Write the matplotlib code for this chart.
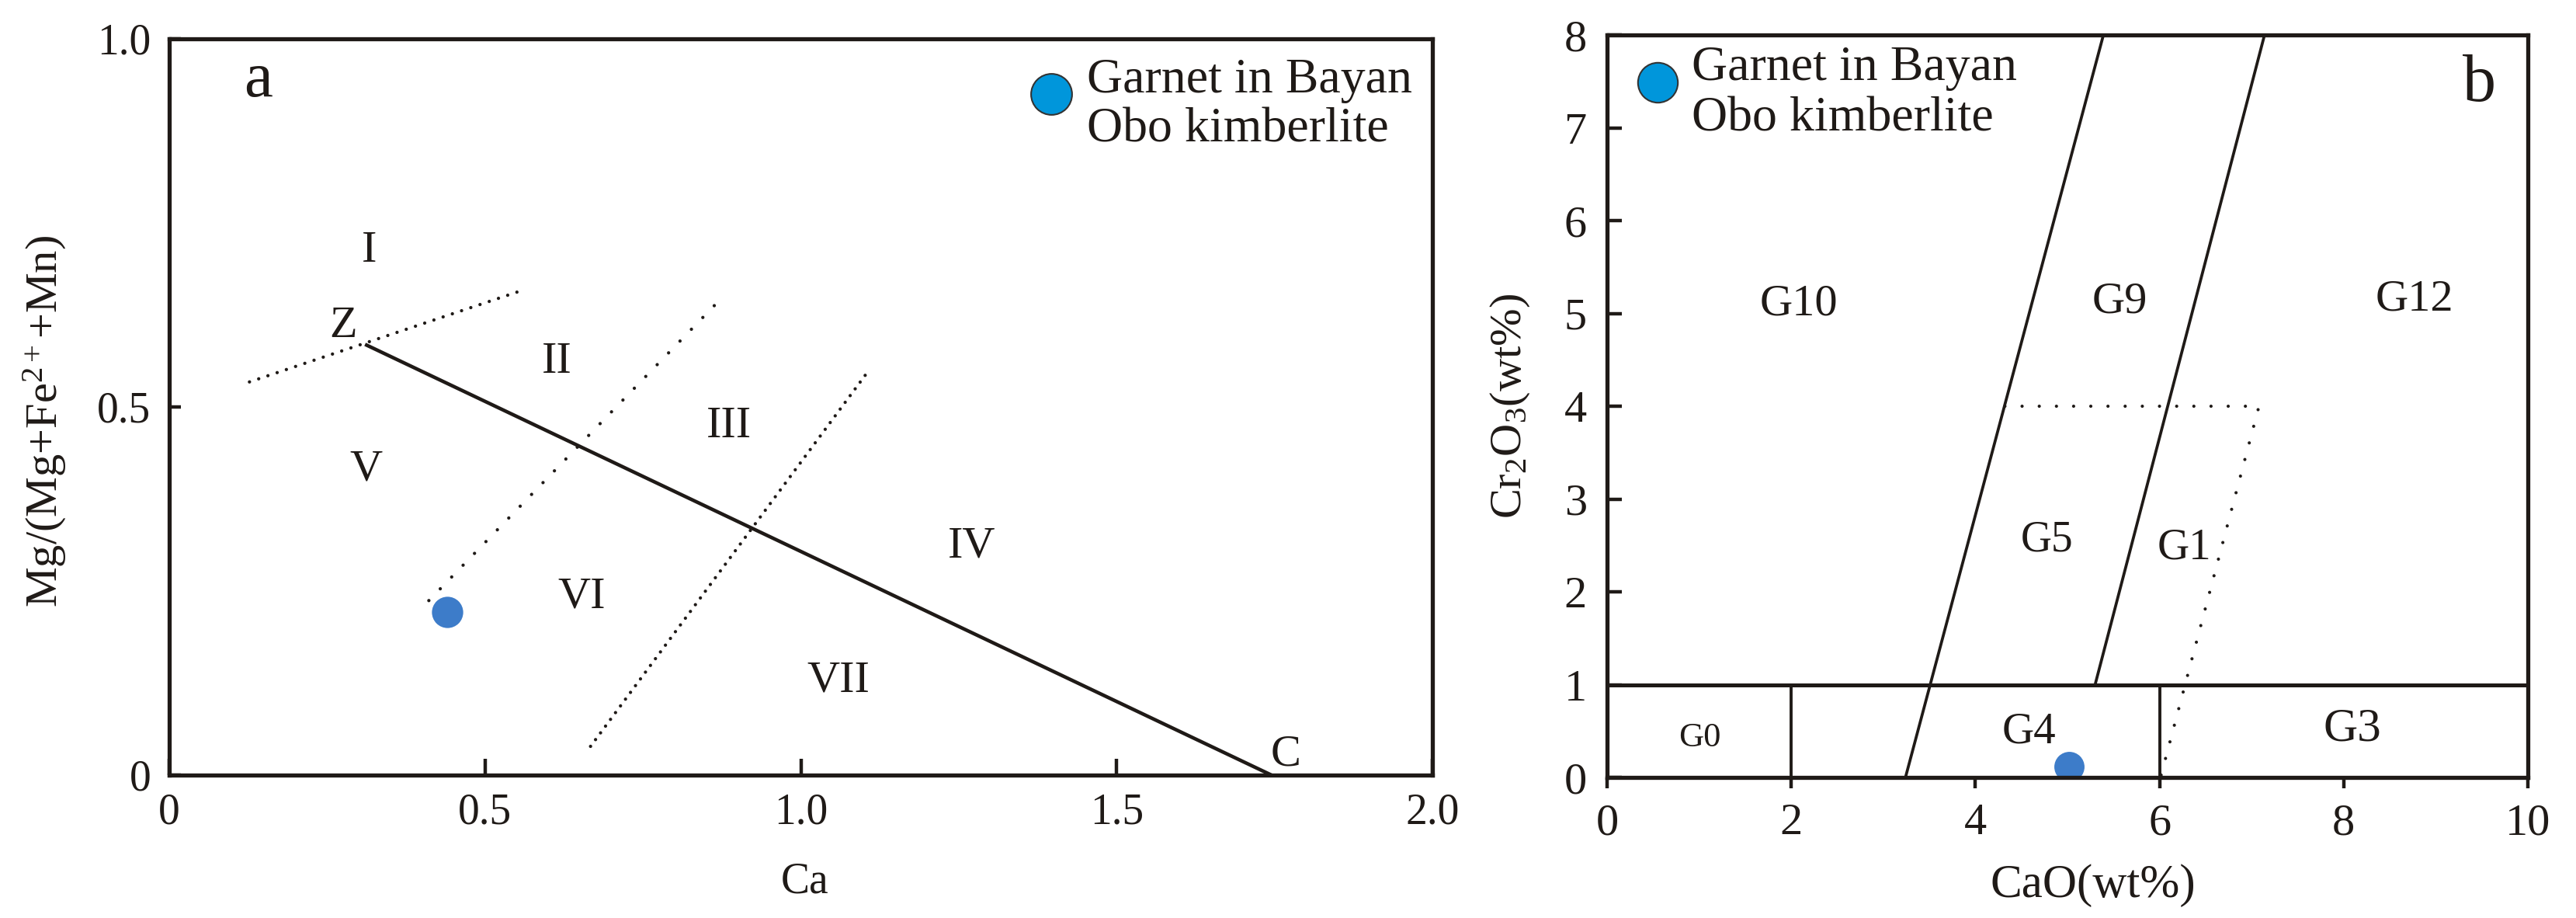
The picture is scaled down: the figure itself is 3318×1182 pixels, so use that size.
import matplotlib
matplotlib.use('Agg')
import matplotlib.pyplot as plt

plt.rcParams['font.family'] = ['Liberation Serif', 'DejaVu Serif']
plt.rcParams['mathtext.fontset'] = 'custom'
plt.rcParams['mathtext.rm'] = 'Liberation Serif'
plt.rcParams['mathtext.it'] = 'Liberation Serif:italic'
plt.rcParams['mathtext.bf'] = 'Liberation Serif:bold'

INK = '#1f1a17'
SAMPLE = '#3d7cc9'
LEGEND_DOT = '#0096db'

# ---- panel a : Ca vs Mg/(Mg+Fe2+ +Mn)
a_zc_x = [0.31, 1.745]
a_zc_y = [0.585, 0.0]
a_dot1_x = [0.127, 0.561]
a_dot1_y = [0.534, 0.659]
a_dot2_x = [0.411, 0.878]
a_dot2_y = [0.237, 0.651]
a_dot3_x = [0.667, 1.107]
a_dot3_y = [0.039, 0.549]
a_labels = ['I', 'Z', 'II', 'III', 'IV', 'V', 'VI', 'VII', 'C']
a_lab_x = [0.316, 0.275, 0.614, 0.886, 1.270, 0.312, 0.653, 1.059, 1.767]
a_lab_y = [0.6975, 0.5945, 0.546, 0.459, 0.296, 0.400, 0.227, 0.113, 0.013]
a_sample_x = [0.44]
a_sample_y = [0.221]
a_xticks = [0, 0.5, 1.0, 1.5, 2.0]
a_xticklabels = ['0', '0.5', '1.0', '1.5', '2.0']
a_yticks = [0, 0.5, 1.0]
a_yticklabels = ['0', '0.5', '1.0']

# ---- panel b : CaO vs Cr2O3
b_left_x = [3.24, 5.39]
b_left_y = [0, 8]
b_right_x = [5.30, 7.14]
b_right_y = [1, 8]
b_div_x = [2, 6]
b_dot_x = [4.32, 7.08, 6.01]
b_dot_y = [4, 4, 0]
b_labels = ['G10', 'G9', 'G12', 'G5', 'G1', 'G0', 'G4', 'G3']
b_lab_x = [2.08, 5.57, 8.77, 4.78, 6.27, 1.01, 4.58, 8.09]
b_lab_y = [4.98, 5.01, 5.03, 2.44, 2.36, 0.335, 0.37, 0.40]
b_lab_size = [42, 42, 42, 40, 41, 32, 41, 44]
b_sample_x = [5.02]
b_sample_y = [0.12]
b_xticks = [0, 2, 4, 6, 8, 10]
b_yticks = [0, 1, 2, 3, 4, 5, 6, 7, 8]

fig = plt.figure(figsize=(33.18, 11.82), dpi=100)
ax1 = fig.add_axes([0.0657, 0.1557, 0.4904, 0.8020])
ax2 = fig.add_axes([0.6239, 0.1531, 0.3574, 0.8088])

for ax in (ax1, ax2):
    for s in ax.spines.values():
        s.set_linewidth(3.8)
        s.set_color(INK)

# panel a
ax1.plot(a_zc_x, a_zc_y, color=INK, lw=3.3, solid_capstyle='butt')
ax1.plot(a_dot1_x, a_dot1_y, color=INK, lw=3.1, ls=(0, (0.01, 2.9)), dash_capstyle='round')
ax1.plot(a_dot2_x, a_dot2_y, color=INK, lw=3.1, ls=(0, (0.01, 4.9)), dash_capstyle='round')
ax1.plot(a_dot3_x, a_dot3_y, color=INK, lw=3.1, ls=(0, (0.01, 2.5)), dash_capstyle='round')
for t, x, y in zip(a_labels, a_lab_x, a_lab_y):
    ax1.text(x, y, t, fontsize=42, ha='center', va='baseline', color=INK)
ax1.plot(a_sample_x, a_sample_y, 'o', ms=29, color=SAMPLE, mec='none', zorder=5)
ax1.text(0.141, 0.922, 'a', fontsize=60, ha='center', va='baseline', color=INK)

ax1.set_xlim(0, 2.0)
ax1.set_ylim(0, 1.0)
ax1.set_xticks(a_xticks)
ax1.set_xticklabels(a_xticklabels)
ax1.set_yticks(a_yticks)
ax1.set_yticklabels(a_yticklabels)
ax1.tick_params(axis='x', direction='in', length=15, width=3.2, pad=16, labelsize=40, colors=INK)
ax1.tick_params(axis='y', direction='in', length=11, width=3.2, pad=17, labelsize=40, colors=INK)
ax1.set_xlabel('Ca', fontsize=40, color=INK)
ax1.xaxis.set_label_coords(0.503, -0.118)
ax1.set_ylabel('Mg/(Mg+Fe$^{2+}$+Mn)', fontsize=42, color=INK)
ax1.yaxis.set_label_coords(-0.080, 0.48)

ax1.plot([0.698], [0.9256], 'o', transform=ax1.transAxes, ms=38, mfc=LEGEND_DOT,
         mec='#333333', mew=1.5, clip_on=False)
ax1.text(0.7265, 0.9276, 'Garnet in Bayan', transform=ax1.transAxes, fontsize=46,
         va='baseline', color=INK)
ax1.text(0.7265, 0.8597, 'Obo kimberlite', transform=ax1.transAxes, fontsize=46,
         va='baseline', color=INK)

# panel b
ax2.plot(b_left_x, b_left_y, color=INK, lw=2.7)
ax2.plot(b_right_x, b_right_y, color=INK, lw=2.7)
ax2.axhline(1, color=INK, lw=3.6)
for x in b_div_x:
    ax2.plot([x, x], [0, 1], color=INK, lw=2.8)
ax2.plot(b_dot_x, b_dot_y, color=INK, lw=3.0, ls=(0, (0.01, 5.3)), dash_capstyle='round')
for t, x, y, fs in zip(b_labels, b_lab_x, b_lab_y, b_lab_size):
    ax2.text(x, y, t, fontsize=fs, ha='center', va='baseline', color=INK)
ax2.plot(b_sample_x, b_sample_y, 'o', ms=28, color=SAMPLE, mec='none', zorder=1.5)
ax2.text(9.47, 7.29, 'b', fontsize=62, ha='center', va='baseline', color=INK)

ax2.set_xlim(0, 10)
ax2.set_ylim(0, 8)
ax2.set_xticks(b_xticks)
ax2.set_yticks(b_yticks)
ax2.tick_params(axis='x', direction='out', length=10, width=3.2, pad=14, labelsize=42, colors=INK)
ax2.tick_params(axis='y', direction='in', length=14, width=3.2, pad=19, labelsize=42, colors=INK)
ax2.set_xlabel('CaO(wt%)', fontsize=44, color=INK)
ax2.xaxis.set_label_coords(0.528, -0.116)
ax2.set_ylabel('Cr$_2$O$_3$(wt%)', fontsize=42, color=INK)
ax2.yaxis.set_label_coords(-0.082, 0.5)

ax2.plot([0.0548], [0.936], 'o', transform=ax2.transAxes, ms=37, mfc=LEGEND_DOT,
         mec='#333333', mew=1.5, clip_on=False)
ax2.text(0.0916, 0.939, 'Garnet in Bayan', transform=ax2.transAxes, fontsize=46,
         va='baseline', color=INK)
ax2.text(0.0916, 0.871, 'Obo kimberlite', transform=ax2.transAxes, fontsize=46,
         va='baseline', color=INK)

fig.savefig('out.png', dpi=100, facecolor='white')
